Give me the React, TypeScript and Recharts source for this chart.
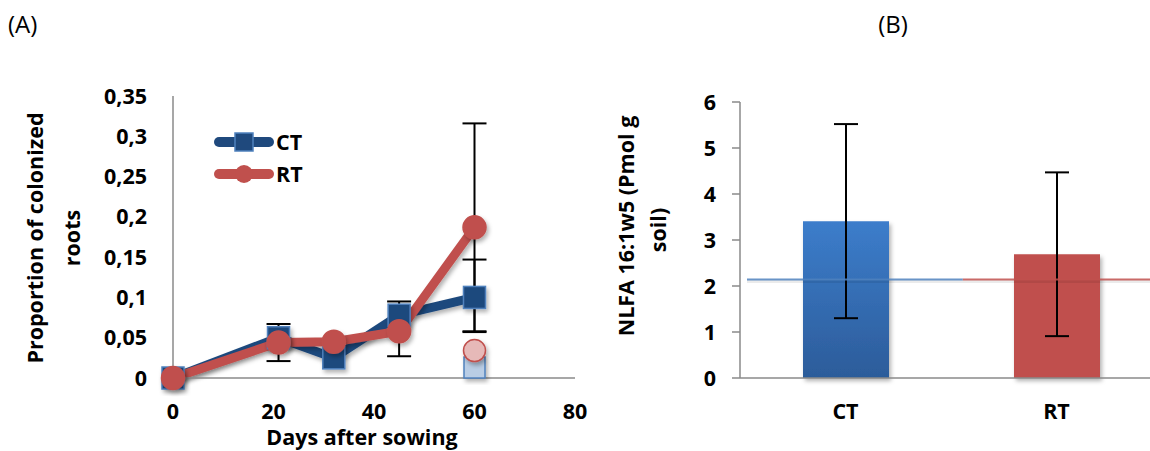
import React from "react";
import {
  LineChart,
  Line,
  XAxis,
  YAxis,
  ErrorBar,
  Legend,
  BarChart,
  Bar,
  Cell,
  ReferenceLine,
} from "recharts";

// panel A: proportion of colonized roots over time
const days = [0, 21, 32, 45, 60];
const ctValues = [0, 0.05, 0.025, 0.078, 0.1];
const rtValues = [0, 0.044, 0.045, 0.058, 0.187];
const ctErrors: (number | number[] | null)[] = [null, null, null, null, [0.043, 0.047]];
const rtErrors: (number | number[] | null)[] = [null, 0.023, null, [0.031, 0.037], 0.129];
const ctFaded = [null, null, null, null, 0.013];
const rtFaded = [null, null, null, null, 0.034];
const dayTicks = [0, 20, 40, 60, 80];
const propTicks = [0, 0.05, 0.1, 0.15, 0.2, 0.25, 0.3, 0.35];
const seriesNames = ["CT", "RT"];

// panel B: NLFA 16:1w5
const treatments = ["CT", "RT"];
const nlfaMeans = [3.41, 2.69];
const nlfaErrors = [2.11, 1.78];
const nlfaTicks = [0, 1, 2, 3, 4, 5, 6];
const nlfaBaseline = 2.14;

const BLUE_DARK = "#1F497D";
const BLUE = "#4F81BD";
const RED = "#C0504D";
const AXIS = "#8a8a8a";
const FONT = "'Open Sans', sans-serif";

const tickStyle = { fill: "#000", fontSize: 21.5, fontWeight: 700, fontFamily: FONT };

const lineData = days.map((d, i) => ({
  day: d,
  ct: ctValues[i],
  rt: rtValues[i],
  ctErr: ctErrors[i],
  rtErr: rtErrors[i],
  ctF: ctFaded[i],
  rtF: rtFaded[i],
}));

const barData = treatments.map((t, i) => ({ name: t, value: nlfaMeans[i], err: nlfaErrors[i] }));

const square = (fill: string, stroke: string, size: number) => (p: any) => {
  const { cx, cy, index, value } = p;
  if (cx == null || cy == null || value == null) return <g key={`s-${index}`} />;
  return (
    <rect
      key={`s-${index}`}
      x={cx - size / 2}
      y={cy - size / 2}
      width={size}
      height={size}
      fill={fill}
      stroke={stroke}
      strokeWidth={1.5}
      filter="url(#shadow)"
    />
  );
};

const circle = (fill: string, stroke: string, r: number) => (p: any) => {
  const { cx, cy, index, value } = p;
  if (cx == null || cy == null || value == null) return <g key={`c-${index}`} />;
  return <circle key={`c-${index}`} cx={cx} cy={cy} r={r} fill={fill} stroke={stroke} strokeWidth={1.5} filter="url(#shadow)" />;
};

// baseline drawn in two colours, blue under CT and red under RT
const splitBaseline = (p: any) => {
  const { x1, x2, y1 } = p;
  if (x1 == null || x2 == null || y1 == null) return <g />;
  const start = Math.min(x1, x2) + 7;
  const end = Math.max(x1, x2);
  const mid = start + (end - start) * 0.52;
  return (
    <g>
      <line x1={start} y1={y1 + 2} x2={end} y2={y1 + 2} stroke="#000" strokeOpacity={0.08} strokeWidth={3} />
      <line x1={start} y1={y1} x2={mid} y2={y1} stroke={BLUE} strokeWidth={2} strokeOpacity={0.85} />
      <line x1={mid} y1={y1} x2={end} y2={y1} stroke={RED} strokeWidth={2} strokeOpacity={0.85} />
    </g>
  );
};

const LegendBox = () => (
  <svg width={110} height={72}>
    {seriesNames.map((name, i) => {
      const y = 22 + i * 32;
      const color = i === 0 ? BLUE_DARK : RED;
      return (
        <g key={name}>
          <line x1={14} y1={y} x2={64} y2={y} stroke={color} strokeWidth={10} strokeLinecap="round" />
          {i === 0 ? (
            <rect x={30} y={y - 9} width={18} height={18} fill={BLUE_DARK} stroke={BLUE} strokeWidth={1.5} />
          ) : (
            <circle cx={39} cy={y} r={9} fill={RED} />
          )}
          <text x={71} y={y + 7.5} {...tickStyle}>
            {name}
          </text>
        </g>
      );
    })}
  </svg>
);

const Overlay = () => (
  <svg width={1150} height={451} style={{ position: "absolute", left: 0, top: 0 }}>
    <defs>
      <filter id="shadow" x="-30%" y="-30%" width="160%" height="160%">
        <feDropShadow dx={2} dy={3} stdDeviation={2} floodColor="#000" floodOpacity={0.3} />
      </filter>
      <linearGradient id="ctGrad" x1="0" y1="0" x2="0" y2="1">
        <stop offset="0%" stopColor="#3C7DCB" />
        <stop offset="100%" stopColor="#2C5C9A" />
      </linearGradient>
    </defs>
    <text x={8} y={33} fontSize={24} fontFamily="'Open Sans', sans-serif">(A)</text>
    <text x={893} y={33} fontSize={24} fontFamily="'Open Sans', sans-serif" textAnchor="middle">(B)</text>
    <g fontFamily={FONT} fontWeight={700} fontSize={21.5} textAnchor="middle">
      <text transform="translate(43,238) rotate(-90)">Proportion of colonized</text>
      <text transform="translate(80,238) rotate(-90)">roots</text>
      <text x={362} y={445}>Days after sowing</text>
      <text transform="translate(634,226) rotate(-90)">NLFA 16:1w5 (Pmol g</text>
      <text transform="translate(666,230) rotate(-90)">soil)</text>
    </g>
  </svg>
);

export default function App() {
  return (
    <div
      style={{
        position: "fixed",
        left: 0,
        top: 0,
        width: 1150,
        height: 451,
        overflow: "hidden",
        background: "#fff",
      }}
    >
      <Overlay />
      <div style={{ position: "absolute", left: 0, top: 0 }}>
        <LineChart width={600} height={451} data={lineData} margin={{ top: 96, right: 25, bottom: 33, left: 0 }}>
          <XAxis
            dataKey="day"
            type="number"
            domain={[0, 80]}
            ticks={dayTicks}
            axisLine={{ stroke: AXIS, strokeWidth: 1.5 }}
            tickLine={false}
            tickSize={0}
            tickMargin={26}
            height={40}
            tick={tickStyle}
          />
          <YAxis
            type="number"
            domain={[0, 0.35]}
            ticks={propTicks}
            tickFormatter={(v: number) => String(v).replace(".", ",")}
            axisLine={{ stroke: AXIS, strokeWidth: 1.5 }}
            tickLine={false}
            tickSize={0}
            tickMargin={26}
            width={173}
            tick={tickStyle}
          />
          <Legend
            layout="vertical"
            align="center"
            verticalAlign="middle"
            wrapperStyle={{ left: 205, top: 120, width: 110 }}
            content={() => <LegendBox />}
          />
          {/* error bars carried by hidden lines so the markers sit on top */}
          <Line dataKey="rt" stroke="none" dot={false} legendType="none" isAnimationActive={false}>
            <ErrorBar dataKey="rtErr" width={12} stroke="#000" strokeWidth={2} direction="y" />
          </Line>
          <Line dataKey="ct" stroke="none" dot={false} legendType="none" isAnimationActive={false}>
            <ErrorBar dataKey="ctErr" width={12} stroke="#000" strokeWidth={2} direction="y" />
          </Line>
          <Line
            dataKey="ct"
            name="CT"
            stroke={BLUE_DARK}
            strokeWidth={9}
            strokeLinejoin="round"
            filter="url(#shadow)"
            dot={square(BLUE_DARK, BLUE, 22)}
            activeDot={false}
            isAnimationActive={false}
          />
          <Line
            dataKey="rt"
            name="RT"
            stroke={RED}
            strokeWidth={9}
            strokeLinejoin="round"
            filter="url(#shadow)"
            dot={circle(RED, RED, 11.5)}
            activeDot={false}
            isAnimationActive={false}
          />
          <Line
            dataKey="ctF"
            stroke="none"
            legendType="none"
            dot={square("#B9CDE5", BLUE, 21)}
            activeDot={false}
            isAnimationActive={false}
          />
          <Line
            dataKey="rtF"
            stroke="none"
            legendType="none"
            dot={circle("#E6B9B8", RED, 11)}
            activeDot={false}
            isAnimationActive={false}
          />
        </LineChart>
      </div>
      <div style={{ position: "absolute", left: 600, top: 0 }}>
        <BarChart width={562} height={451} data={barData} margin={{ top: 102, right: 0, bottom: 33, left: 0 }}>
          <XAxis
            dataKey="name"
            axisLine={{ stroke: AXIS, strokeWidth: 1.5 }}
            tickLine={false}
            tickSize={0}
            tickMargin={26}
            height={40}
            tick={tickStyle}
          />
          <YAxis
            type="number"
            domain={[0, 6]}
            ticks={nlfaTicks}
            axisLine={{ stroke: AXIS, strokeWidth: 1.5 }}
            tickLine={{ stroke: AXIS, strokeWidth: 1.5 }}
            tickSize={8}
            tickMargin={16}
            width={140}
            tick={tickStyle}
          />
          <Bar dataKey="value" barSize={86} isAnimationActive={false} filter="url(#shadow)">
            {barData.map((d, i) => (
              <Cell key={d.name} fill={i === 0 ? "url(#ctGrad)" : RED} />
            ))}
            <ErrorBar dataKey="err" width={12} stroke="#000" strokeWidth={2} direction="y" />
          </Bar>
          <ReferenceLine y={nlfaBaseline} shape={splitBaseline} />
        </BarChart>
      </div>
    </div>
  );
}
